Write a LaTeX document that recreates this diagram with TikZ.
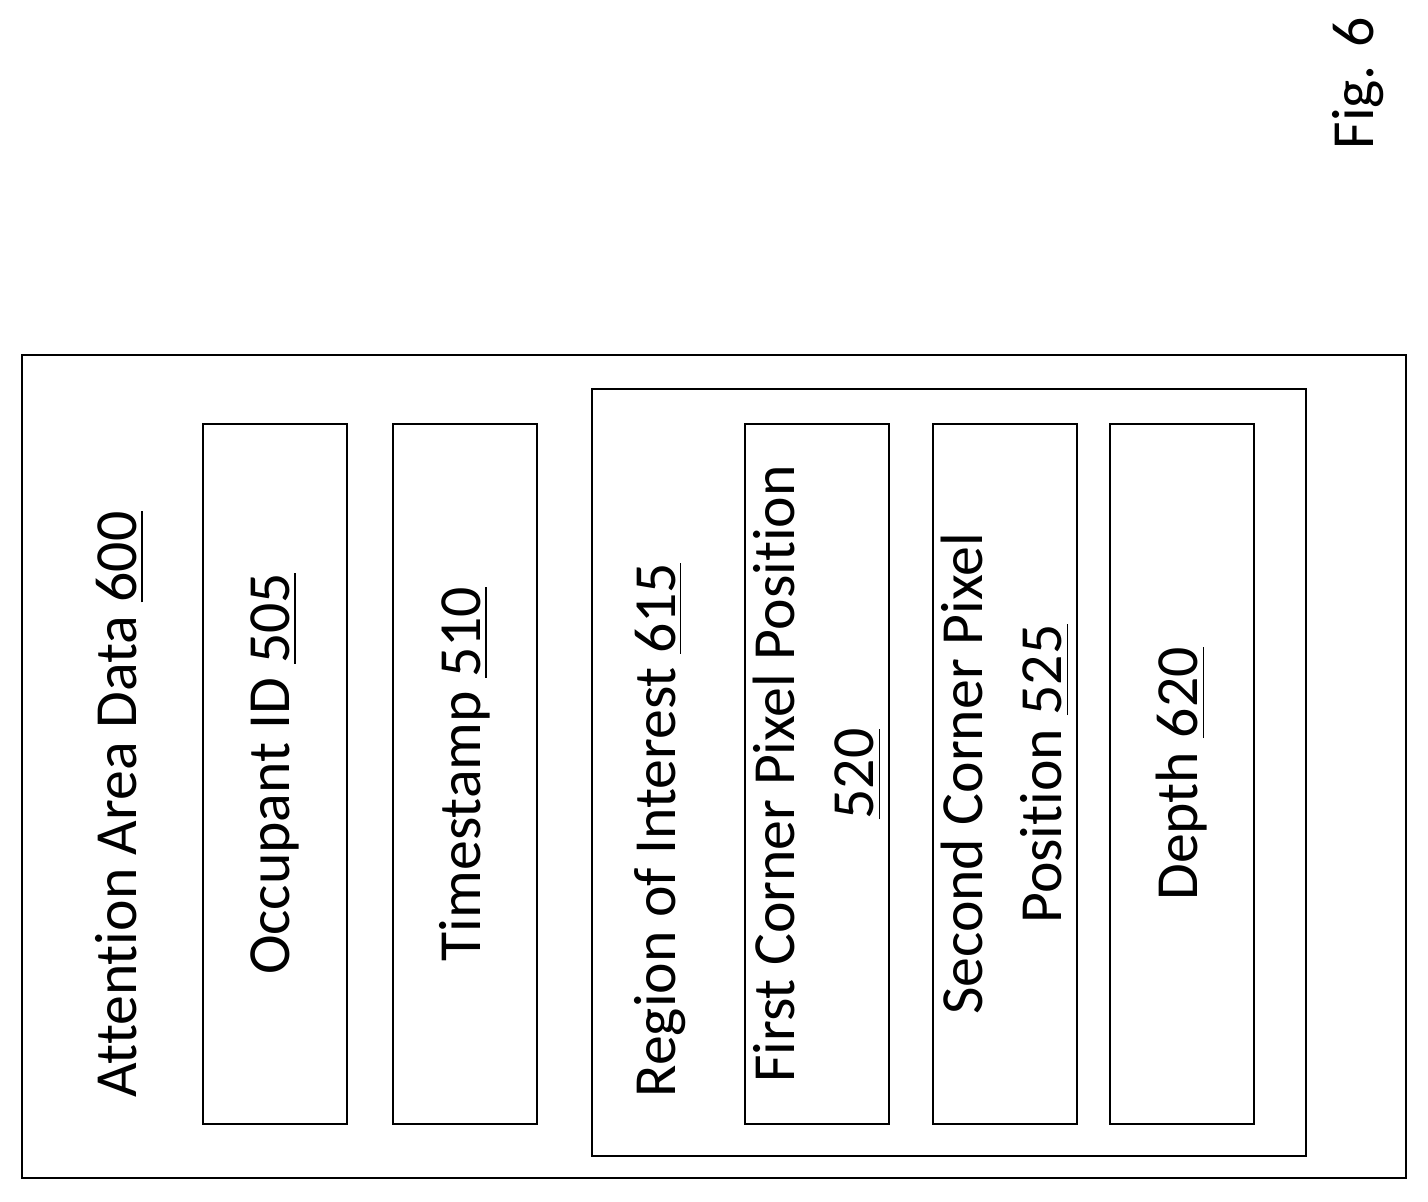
\documentclass[tikz,border=0pt]{standalone}
\usepackage{fontspec}
\setmainfont{Carlito}[Ligatures=NoCommon]
\usetikzlibrary{positioning}
\begin{document}
\begin{tikzpicture}
    % Define styles
    \tikzset{
        fieldbox/.style={draw, line width=0.8pt, minimum width=1.44cm, minimum height=7cm},
        label/.style={rotate=90, font=\fontsize{17}{22.7}\selectfont, inner sep=0pt},
    }
    \useasboundingbox (0,0) rectangle (14.28,12.02);

    % Outer frames
    \draw[line width=0.8pt] (0.22,0.24) rectangle (14.06,8.47);
    \draw[line width=0.8pt] (5.92,0.46) rectangle (13.06,8.13);
    \node[label, anchor=west] (attn) at (1.20,1.04) {Attention Area Data \underline{600}};
    \node[label, anchor=west] (roi) at (6.60,1.04) {Region of Interest \underline{615}};

    % Field boxes
    \node[fieldbox] (occ) at (2.75,4.28) {};
    \node[fieldbox] (time) at (4.65,4.28) {};
    \node[fieldbox] (first) at (8.17,4.28) {};
    \node[fieldbox] (second) at (10.05,4.28) {};
    \node[fieldbox] (depth) at (11.82,4.28) {};

    % Field labels
    \node[label] at (occ.center) {Occupant ID \underline{505}};
    \node[label] at (time.center) {Timestamp \underline{510}};
    \node[label, align=center] at (first.center) {First Corner Pixel Position\\\underline{520}};
    \node[label, align=center] at (second.center) {Second Corner Pixel\\Position \underline{525}};
    \node[label] at (depth.center) {Depth \underline{620}};

    \node[label] (fig) at (13.58,11.19) {Fig. 6};
\end{tikzpicture}
\end{document}
